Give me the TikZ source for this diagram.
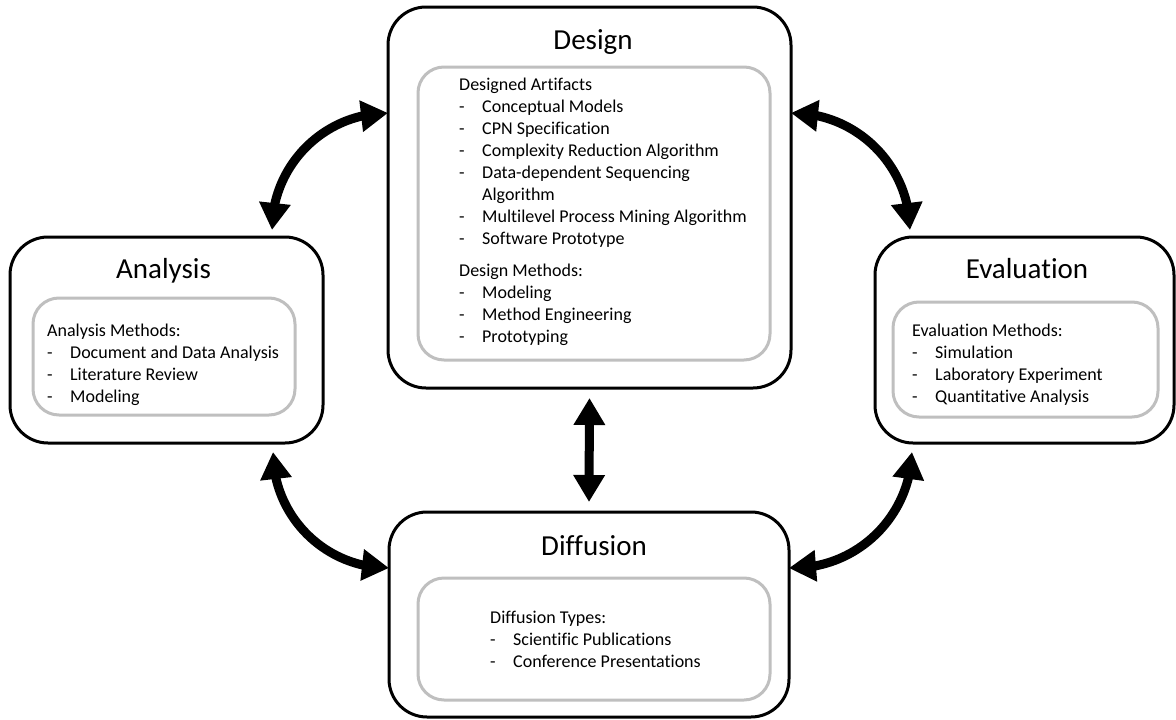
\documentclass[tikz,border=0pt]{standalone}
\usepackage{fontspec}
\setmainfont{Carlito}[Ligatures=NoCommon]
\usetikzlibrary{arrows.meta,bending}
\definecolor{innergray}{HTML}{BFBFBF}
\begin{document}
\begin{tikzpicture}[x=1pt,y=-1pt]
\tikzset{
  phase/.style={draw=black,line width=3pt,rounded corners=38pt,inner sep=0pt,outer sep=0pt},
  detail/.style={draw=innergray,line width=3pt,rounded corners=26pt,inner sep=0pt,outer sep=0pt},
  title/.style={font=\fontsize{29}{34}\selectfont,anchor=base,inner sep=0pt},
  % multi-line blocks are placed by the baseline of their last line
  body/.style={font=\fontsize{18}{22}\selectfont,anchor=base west,inner sep=0pt,align=left},
  link/.style={line width=9pt,{Triangle[length=27pt,width=30pt,flex]}-{Triangle[length=27pt,width=30pt,flex]}},
}
\newcommand{\itm}[1]{\makebox[23pt][l]{-}#1}
\useasboundingbox (0,0) rectangle (1176,720);

% phase frames
\node[phase,minimum width=403pt,minimum height=381pt] (des) at (589.5,197.5) {};
\node[detail,minimum width=352pt,minimum height=293pt] (desin) at (594,213.5) {};
\node[phase,minimum width=313pt,minimum height=206pt] (ana) at (166.5,340) {};
\node[detail,minimum width=262pt,minimum height=117pt] (anain) at (164,356.5) {};
\node[phase,minimum width=299pt,minimum height=206pt] (eva) at (1024.5,340) {};
\node[detail,minimum width=265pt,minimum height=115pt] (evain) at (1025.5,359.5) {};
\node[phase,minimum width=400pt,minimum height=205pt] (dif) at (589,614.5) {};
\node[detail,minimum width=352pt,minimum height=122pt] (difin) at (594,639) {};

% titles
\node[title] (destitle) at (593,49) {Design};
\node[title] (anatitle) at (163.5,278) {Analysis};
\node[title] (evatitle) at (1027,278) {Evaluation};
\node[title] (diftitle) at (594,555) {Diffusion};

% contents
\node[body] (destext) at (459,342) {Designed Artifacts\\
\itm{Conceptual Models}\\
\itm{CPN Specification}\\
\itm{Complexity Reduction Algorithm}\\
\itm{Data-dependent Sequencing}\\
\hspace*{23pt}Algorithm\\
\itm{Multilevel Process Mining Algorithm}\\
\itm{Software Prototype}\\[10pt]
Design Methods:\\
\itm{Modeling}\\
\itm{Method Engineering}\\
\itm{Prototyping}};
\node[body] (anatext) at (47,402) {Analysis Methods:\\
\itm{Document and Data Analysis}\\
\itm{Literature Review}\\
\itm{Modeling}};
\node[body] (evatext) at (912,402) {Evaluation Methods:\\
\itm{Simulation}\\
\itm{Laboratory Experiment}\\
\itm{Quantitative Analysis}};
\node[body] (diftext) at (490,667) {Diffusion Types:\\
\itm{Scientific Publications}\\
\itm{Conference Presentations}};

% connector ends
\coordinate (tla) at ([xshift=-51pt,yshift=7pt]ana.north east);
\coordinate (tld) at ([yshift=84.5pt]des.west);
\coordinate (trd) at ([yshift=84.5pt]des.east);
\coordinate (tre) at ([xshift=35pt,yshift=7pt]eva.north west);
\coordinate (bre) at ([xshift=37pt,yshift=-9pt]eva.south west);
\coordinate (brd) at ([yshift=46.5pt]dif.east);
\coordinate (bld) at ([yshift=46.5pt]dif.west);
\coordinate (bla) at ([xshift=-50pt,yshift=-9pt]ana.south east);
\coordinate (mdt) at ([yshift=-10pt]des.south);
\coordinate (mdb) at ([yshift=10pt]dif.north);

% connectors
\draw[link] (tla) to[bend left=45] (tld);
\draw[link] (trd) to[bend left=45] (tre);
\draw[link] (bre) to[bend left=45] (brd);
\draw[link] (bld) to[bend left=45] (bla);
\draw[link] (mdt) -- (mdb);
\end{tikzpicture}
\end{document}
